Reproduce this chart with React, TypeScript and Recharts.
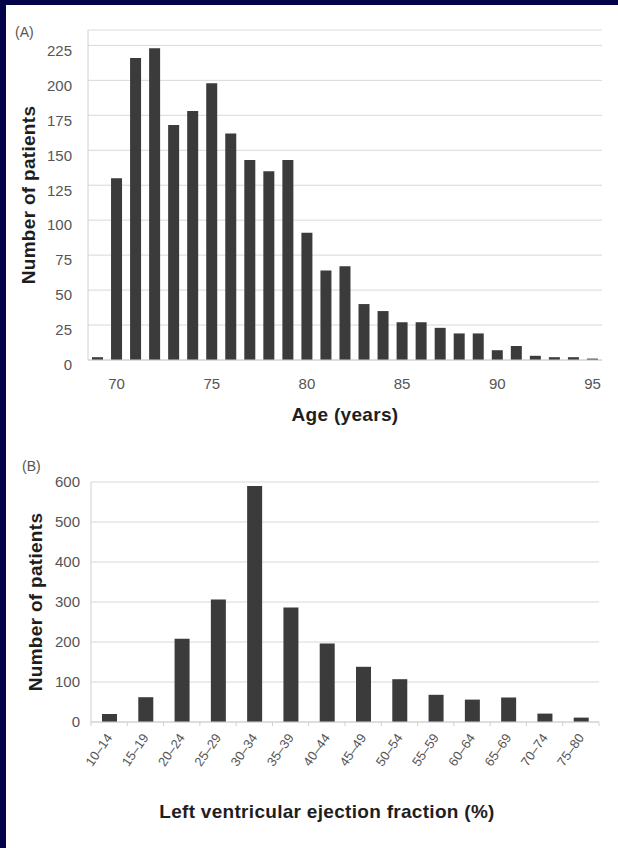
import { BarChart, Bar, XAxis, YAxis, CartesianGrid, ReferenceLine } from "recharts";

// (A) age distribution
const ageYears = [
  69, 70, 71, 72, 73, 74, 75, 76, 77, 78, 79, 80, 81, 82, 83, 84, 85, 86, 87,
  88, 89, 90, 91, 92, 93, 94, 95,
];
const agePatients = [
  2, 130, 216, 223, 168, 178, 198, 162, 143, 135, 143, 91, 64, 67, 40, 35, 27,
  27, 23, 19, 19, 7, 10, 3, 2, 2, 1,
];
const ageTicks = [0, 25, 50, 75, 100, 125, 150, 175, 200, 225];
const ageLabelYears = [70, 75, 80, 85, 90, 95];
const ageTop = 236;

// (B) LVEF distribution
const efBands = [
  "10–14", "15–19", "20–24", "25–29", "30–34", "35–39", "40–44",
  "45–49", "50–54", "55–59", "60–64", "65–69", "70–74", "75–80",
];
const efPatients = [20, 62, 208, 306, 590, 286, 196, 138, 107, 68, 56, 61, 21, 11];
const efTicks = [0, 100, 200, 300, 400, 500, 600];

const ageData = ageYears.map((age, i) => ({ age, patients: agePatients[i] }));
const efData = efBands.map((band, i) => ({ band, patients: efPatients[i] }));

const FONT = '"Liberation Sans", Arial, sans-serif';
const BAR = "#3b3b3b";
const GRID = "#d8d8d8";
const AXIS = "#d0d0d0";
const TICK = "#555555";
const TITLE = "#1e1e1e";

const tickStyle = { fontSize: 15, fill: TICK, fontFamily: FONT };
const titleStyle = {
  fontSize: 19,
  fontWeight: "bold",
  fill: TITLE,
  fontFamily: FONT,
  letterSpacing: 0.3,
};

const EfTick = (props: any) => {
  const { x, y, payload, index } = props;
  const half = payload?.offset ?? 0;
  return (
    <g>
      <line x1={x - half} x2={x - half} y1={y} y2={y + 4} stroke={AXIS} />
      {index === efBands.length - 1 && (
        <line x1={x + half} x2={x + half} y1={y} y2={y + 4} stroke={AXIS} />
      )}
      <text
        x={0}
        y={0}
        dy="0.35em"
        transform={`translate(${x},${y + 13}) rotate(-55)`}
        textAnchor="end"
        fontSize={13}
        fill={TICK}
        fontFamily={FONT}
      >
        {payload.value}
      </text>
    </g>
  );
};

const panelLabel = (text: string, left: number, top: number) => (
  <div
    style={{
      position: "absolute",
      left,
      top,
      fontFamily: FONT,
      fontSize: 14,
      color: "#555",
      lineHeight: "14px",
    }}
  >
    {text}
  </div>
);

export default function App() {
  return (
    <div
      style={{
        position: "absolute",
        left: 0,
        top: 0,
        width: 618,
        height: 848,
        background: "#03034a",
        overflow: "hidden",
      }}
    >
      <div
        style={{
          position: "absolute",
          left: 6,
          top: 5,
          width: 612,
          height: 843,
          background: "#ffffff",
        }}
      />
      {panelLabel("(A)", 15, 25)}
      {panelLabel("(B)", 22, 459)}

      <div style={{ position: "absolute", left: 0, top: 0 }}>
        <BarChart
          width={618}
          height={430}
          data={ageData}
          margin={{ top: 30, right: 16, bottom: 0, left: 0 }}
          barSize={11}
        >
          <CartesianGrid vertical={false} stroke={GRID} />
          <ReferenceLine y={ageTop} stroke="#efefef" />
          <XAxis
            dataKey="age"
            height={70}
            interval={0}
            tickLine={false}
            tickSize={0}
            tickMargin={18}
            axisLine={{ stroke: AXIS }}
            tick={tickStyle}
            tickFormatter={(v: number) => (ageLabelYears.includes(v) ? String(v) : "")}
            label={{
              value: "Age (years)",
              position: "insideBottom",
              offset: 9,
              style: titleStyle,
            }}
          />
          <YAxis
            width={88}
            domain={[0, ageTop]}
            ticks={ageTicks}
            interval={0}
            tickLine={false}
            tickSize={0}
            tickMargin={16}
            axisLine={{ stroke: AXIS }}
            tick={{ ...tickStyle, dy: 5 }}
            label={{
              value: "Number of patients",
              angle: -90,
              position: "insideLeft",
              offset: 28,
              style: { ...titleStyle, textAnchor: "middle" },
            }}
          />
          <Bar dataKey="patients" fill={BAR} isAnimationActive={false} />
        </BarChart>
      </div>

      <div style={{ position: "absolute", left: 0, top: 430 }}>
        <BarChart
          width={618}
          height={418}
          data={efData}
          margin={{ top: 52, right: 19, bottom: 0, left: 0 }}
          barSize={15}
        >
          <CartesianGrid vertical={false} stroke={GRID} />
          <XAxis
            dataKey="band"
            height={126}
            interval={0}
            tickLine={false}
            tickSize={0}
            tickMargin={0}
            axisLine={{ stroke: AXIS }}
            tick={<EfTick />}
            label={{
              value: "Left ventricular ejection fraction (%)",
              position: "insideBottom",
              offset: 30,
              dx: -18,
              style: titleStyle,
            }}
          />
          <YAxis
            width={91}
            domain={[0, 600]}
            ticks={efTicks}
            interval={0}
            tickLine={false}
            tickSize={0}
            tickMargin={11}
            axisLine={{ stroke: AXIS }}
            tick={tickStyle}
            label={{
              value: "Number of patients",
              angle: -90,
              position: "insideLeft",
              offset: 35,
              style: { ...titleStyle, textAnchor: "middle" },
            }}
          />
          <Bar dataKey="patients" fill={BAR} isAnimationActive={false} />
        </BarChart>
      </div>
    </div>
  );
}
